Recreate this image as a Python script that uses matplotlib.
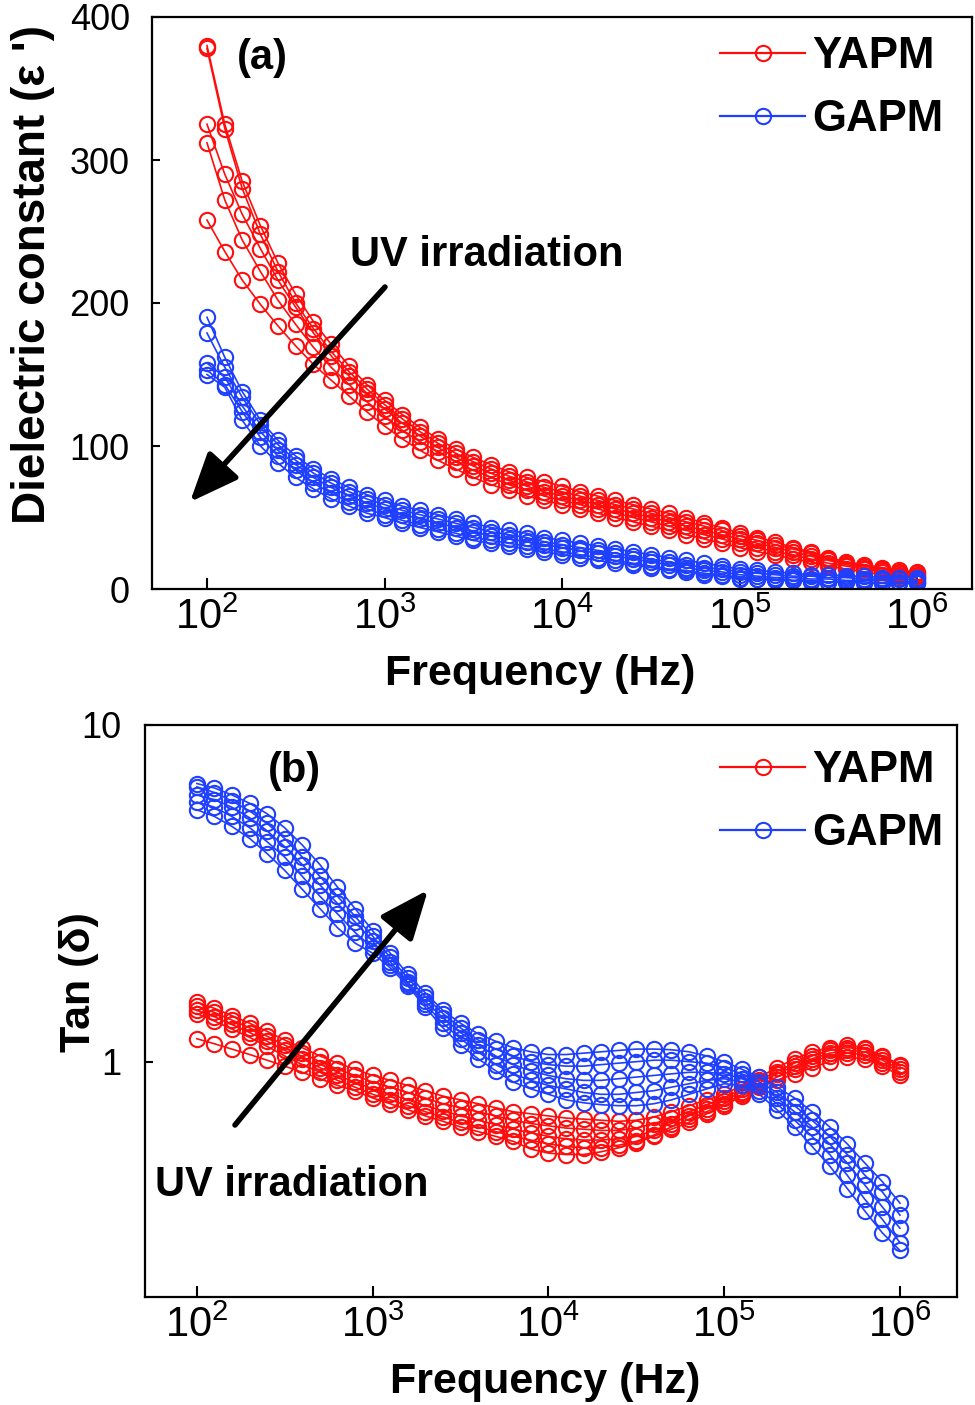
import matplotlib
matplotlib.use('Agg')
import matplotlib.pyplot as plt
from matplotlib.ticker import FixedLocator, NullLocator
from matplotlib.lines import Line2D

plt.rcParams['font.family'] = ['Liberation Sans', 'DejaVu Sans']
plt.rcParams['mathtext.fontset'] = 'custom'
plt.rcParams['mathtext.rm'] = 'Liberation Sans'
plt.rcParams['mathtext.it'] = 'Liberation Sans:italic'
plt.rcParams['mathtext.bf'] = 'Liberation Sans:bold'

# frequency sweep (Hz), 10 points per decade
freq = [100, 126, 158, 200, 251, 316, 398, 501, 631, 794,
        1000, 1259, 1585, 1995, 2512, 3162, 3981, 5012, 6310, 7943,
        10000, 12589, 15849, 19953, 25119, 31623, 39811, 50119, 63096, 79433,
        100000, 125893, 158489, 199526, 251189, 316228, 398107, 501187, 630957, 794328,
        1000000]

# (a) dielectric constant, YAPM
yapm_eps_1 = [380, 325, 285, 254, 228, 206, 187, 171, 156, 143,
              132, 122, 113, 105, 98, 92, 87, 82, 78, 75,
              72, 68, 65, 62, 59, 56, 53, 50, 46, 43,
              39, 36, 33, 29, 26, 22, 19, 17, 15, 13, 12]
yapm_eps_2 = [378, 322, 280, 248, 222, 200, 182, 166, 152, 140,
              129, 119, 110, 102, 95, 89, 84, 79, 75, 71,
              68, 65, 62, 59, 56, 53, 50, 47, 44, 41,
              37, 34, 31, 28, 25, 21, 18, 16, 14, 12, 11]
yapm_eps_3 = [325, 290, 262, 238, 216, 197, 179, 163, 149, 137,
              126, 116, 107, 99, 92, 86, 81, 76, 72, 68,
              65, 62, 59, 56, 53, 50, 47, 44, 41, 38,
              35, 32, 29, 26, 23, 20, 17, 15, 13, 11, 10]
yapm_eps_4 = [312, 272, 244, 222, 202, 185, 169, 155, 143, 131,
              121, 111, 103, 96, 89, 83, 78, 73, 69, 65,
              62, 59, 56, 53, 50, 47, 44, 41, 38, 35,
              32, 29, 26, 24, 21, 18, 16, 14, 12, 10, 9]
yapm_eps_5 = [258, 236, 216, 199, 184, 170, 157, 146, 135, 124,
              114, 105, 97, 90, 84, 78, 73, 69, 65, 62,
              59, 56, 53, 50, 47, 44, 41, 38, 35, 32,
              29, 26, 24, 21, 19, 16, 14, 12, 10, 9, 8]

# (a) dielectric constant, GAPM
gapm_eps_1 = [190, 162, 138, 118, 104, 93, 84, 77, 71, 66,
              62, 58, 55, 52, 49, 46, 43, 41, 39, 36,
              34, 32, 30, 28, 26, 24, 22, 20, 18, 16,
              14, 13, 12, 11, 10, 10, 9, 9, 8, 8, 8]
gapm_eps_2 = [179, 155, 134, 115, 101, 90, 81, 74, 68, 63,
              59, 55, 52, 49, 46, 43, 40, 38, 36, 33,
              31, 29, 27, 25, 23, 21, 19, 17, 15, 14,
              12, 11, 10, 9, 9, 8, 8, 7, 7, 7, 6]
gapm_eps_3 = [158, 148, 128, 110, 97, 87, 78, 71, 65, 60,
              56, 52, 49, 46, 43, 40, 37, 35, 33, 31,
              29, 27, 25, 23, 21, 19, 17, 15, 13, 12,
              10, 9, 8, 8, 7, 7, 6, 6, 6, 5, 5]
gapm_eps_4 = [153, 143, 124, 106, 93, 83, 74, 67, 61, 56,
              52, 48, 45, 42, 39, 36, 34, 32, 30, 28,
              26, 24, 22, 20, 18, 16, 14, 13, 11, 10,
              8, 7, 7, 6, 6, 5, 5, 5, 4, 4, 4]
gapm_eps_5 = [150, 141, 118, 100, 88, 78, 70, 63, 58, 53,
              50, 46, 43, 40, 37, 34, 32, 30, 28, 26,
              24, 22, 20, 18, 17, 15, 13, 12, 10, 9,
              7, 7, 6, 6, 5, 5, 5, 4, 4, 4, 4]

# (b) tan delta, YAPM
yapm_tan_1 = [1.50, 1.44, 1.37, 1.30, 1.23, 1.16, 1.10, 1.04, 0.99, 0.95,
              0.91, 0.88, 0.85, 0.82, 0.79, 0.77, 0.75, 0.73, 0.71, 0.70,
              0.69, 0.68, 0.675, 0.67, 0.665, 0.67, 0.685, 0.71, 0.74, 0.77,
              0.80, 0.85, 0.90, 0.96, 1.02, 1.07, 1.10, 1.12, 1.10, 1.04, 0.98]
yapm_tan_2 = [1.46, 1.40, 1.33, 1.26, 1.19, 1.12, 1.06, 1.00, 0.95, 0.91,
              0.87, 0.84, 0.81, 0.78, 0.75, 0.73, 0.71, 0.69, 0.67, 0.655,
              0.645, 0.635, 0.63, 0.625, 0.625, 0.635, 0.655, 0.68, 0.71, 0.745,
              0.78, 0.83, 0.88, 0.935, 0.99, 1.04, 1.08, 1.10, 1.09, 1.03, 0.97]
yapm_tan_3 = [1.42, 1.36, 1.29, 1.22, 1.15, 1.08, 1.02, 0.96, 0.91, 0.87,
              0.83, 0.80, 0.77, 0.74, 0.715, 0.69, 0.67, 0.65, 0.63, 0.615,
              0.60, 0.59, 0.585, 0.585, 0.59, 0.60, 0.625, 0.655, 0.69, 0.725,
              0.765, 0.815, 0.865, 0.92, 0.97, 1.02, 1.06, 1.08, 1.07, 1.01, 0.95]
yapm_tan_4 = [1.39, 1.32, 1.25, 1.18, 1.11, 1.04, 0.98, 0.93, 0.88, 0.84,
              0.80, 0.77, 0.74, 0.71, 0.685, 0.66, 0.64, 0.62, 0.60, 0.585,
              0.57, 0.56, 0.555, 0.555, 0.565, 0.58, 0.605, 0.64, 0.675, 0.71,
              0.75, 0.80, 0.85, 0.90, 0.95, 1.00, 1.04, 1.06, 1.05, 0.99, 0.93]
yapm_tan_5 = [1.17, 1.13, 1.09, 1.05, 1.01, 0.97, 0.93, 0.89, 0.85, 0.82,
              0.78, 0.75, 0.72, 0.69, 0.665, 0.64, 0.62, 0.60, 0.58, 0.55,
              0.535, 0.53, 0.53, 0.54, 0.555, 0.575, 0.60, 0.63, 0.66, 0.70,
              0.74, 0.79, 0.84, 0.88, 0.92, 0.96, 1.00, 1.03, 1.02, 0.97, 0.91]

# (b) tan delta, GAPM
gapm_tan_1 = [6.7, 6.5, 6.2, 5.85, 5.45, 4.95, 4.4, 3.85, 3.3, 2.85,
              2.45, 2.1, 1.82, 1.6, 1.42, 1.30, 1.21, 1.15, 1.10, 1.07,
              1.05, 1.05, 1.06, 1.07, 1.08, 1.09, 1.09, 1.085, 1.07, 1.04,
              1.0, 0.95, 0.90, 0.84, 0.78, 0.71, 0.64, 0.57, 0.50, 0.44, 0.38]
gapm_tan_2 = [6.55, 6.3, 5.95, 5.55, 5.1, 4.6, 4.05, 3.55, 3.1, 2.7,
              2.36, 2.04, 1.77, 1.56, 1.39, 1.26, 1.16, 1.09, 1.04, 1.0,
              0.98, 0.97, 0.97, 0.98, 0.99, 1.0, 1.01, 1.01, 1.0, 0.99,
              0.96, 0.92, 0.87, 0.81, 0.74, 0.67, 0.60, 0.53, 0.46, 0.41, 0.35]
gapm_tan_3 = [6.2, 6.0, 5.7, 5.3, 4.85, 4.35, 3.85, 3.35, 2.95, 2.6,
              2.28, 1.98, 1.72, 1.51, 1.35, 1.22, 1.12, 1.04, 0.98, 0.94,
              0.91, 0.89, 0.88, 0.88, 0.89, 0.90, 0.91, 0.92, 0.93, 0.93,
              0.92, 0.89, 0.85, 0.78, 0.71, 0.64, 0.57, 0.50, 0.43, 0.37, 0.32]
gapm_tan_4 = [5.9, 5.7, 5.35, 4.95, 4.5, 4.05, 3.55, 3.1, 2.75, 2.42,
              2.18, 1.94, 1.7, 1.48, 1.3, 1.17, 1.07, 0.98, 0.92, 0.88,
              0.85, 0.83, 0.81, 0.8, 0.8, 0.81, 0.82, 0.84, 0.86, 0.88,
              0.89, 0.87, 0.82, 0.75, 0.67, 0.60, 0.53, 0.46, 0.39, 0.34, 0.29]
gapm_tan_5 = [5.6, 5.35, 5.0, 4.6, 4.15, 3.7, 3.25, 2.85, 2.5, 2.25,
              2.1, 1.9, 1.68, 1.45, 1.26, 1.12, 1.02, 0.94, 0.87, 0.83,
              0.80, 0.77, 0.755, 0.745, 0.74, 0.74, 0.75, 0.77, 0.80, 0.83,
              0.86, 0.85, 0.80, 0.72, 0.64, 0.56, 0.49, 0.42, 0.36, 0.31, 0.275]

xticks = [1e2, 1e3, 1e4, 1e5, 1e6]
xtick_labels = [r'$\mathregular{10^{2}}$', r'$\mathregular{10^{3}}$', r'$\mathregular{10^{4}}$',
                r'$\mathregular{10^{5}}$', r'$\mathregular{10^{6}}$']

RED = '#ff0d0d'
BLUE = '#1f3fff'
W, H = 975, 1405

fig = plt.figure(figsize=(W / 100, H / 100), dpi=100)


def px_axes(l, t, r, b):
    return fig.add_axes([l / W, 1 - b / H, (r - l) / W, (b - t) / H])


def ftext(x, y, s, **kw):
    # x, y in image pixels (origin top-left)
    return fig.text(x / W, 1 - y / H, s, **kw)


def draw(ax, series, color):
    for ys in series:
        ax.plot(freq, ys, '-', color=color, lw=1.2, marker='o', ms=11,
                mfc='none', mec=color, mew=1.5)


def style(ax):
    ax.set_xscale('log')
    for sp in ax.spines.values():
        sp.set_linewidth(1.6)
    ax.xaxis.set_major_locator(FixedLocator(xticks))
    ax.set_xticklabels(xtick_labels)
    ax.xaxis.set_minor_locator(NullLocator())
    ax.tick_params(axis='x', direction='in', length=8, width=1.5, pad=6,
                   labelsize=30, top=False)
    ax.tick_params(axis='y', direction='in', length=6, width=1.5,
                   labelsize=26, right=False)


ax1 = px_axes(152, 17, 972, 589)
draw(ax1, [yapm_eps_1, yapm_eps_2, yapm_eps_3, yapm_eps_4, yapm_eps_5], RED)
draw(ax1, [gapm_eps_1, gapm_eps_2, gapm_eps_3, gapm_eps_4, gapm_eps_5], BLUE)
style(ax1)
ax1.set_xlim(49, 2.04e6)
ax1.set_ylim(0, 400)
ax1.set_yticks([0, 100, 200, 300, 400])
ax1.tick_params(axis='y', pad=16)

ax2 = px_axes(145, 725, 957, 1297)
draw(ax2, [yapm_tan_1, yapm_tan_2, yapm_tan_3, yapm_tan_4, yapm_tan_5], RED)
draw(ax2, [gapm_tan_1, gapm_tan_2, gapm_tan_3, gapm_tan_4, gapm_tan_5], BLUE)
style(ax2)
ax2.set_yscale('log')
ax2.set_xlim(50.7, 2.11e6)
ax2.set_ylim(0.2, 10)
ax2.yaxis.set_major_locator(FixedLocator([1, 10]))
ax2.set_yticklabels(['1', '10'])
ax2.yaxis.set_minor_locator(NullLocator())
ax2.tick_params(axis='y', pad=17)

# axis titles
ftext(540, 685, 'Frequency (Hz)', fontsize=31, fontweight='bold', ha='center', va='baseline')
ftext(545, 1393, 'Frequency (Hz)', fontsize=31, fontweight='bold', ha='center', va='baseline')
ftext(45, 275, "Dielectric constant (\u03b5 ')", fontsize=33, fontweight='bold', rotation=90,
      rotation_mode='anchor', ha='center', va='baseline')
ftext(90, 982, 'Tan (\u03b4)', fontsize=31, fontweight='bold', rotation=90,
      rotation_mode='anchor', ha='center', va='baseline')

# panel tags and annotations
ftext(237, 69, '(a)', fontsize=30, fontweight='bold', va='baseline')
ftext(268, 782, '(b)', fontsize=30, fontweight='bold', va='baseline')
ftext(350, 266, 'UV irradiation', fontsize=30, fontweight='bold', va='baseline')
ftext(155, 1196, 'UV irradiation', fontsize=30, fontweight='bold', va='baseline')

arrow = dict(arrowstyle='-|>,head_length=1.2,head_width=0.5', lw=4, color='black',
             mutation_scale=25, shrinkA=0, shrinkB=0)
ax1.annotate('', xy=(190, H - 502), xytext=(385, H - 287), xycoords='figure pixels',
             textcoords='figure pixels', arrowprops=arrow, annotation_clip=False)
ax2.annotate('', xy=(428, H - 890), xytext=(235, H - 1125), xycoords='figure pixels',
             textcoords='figure pixels', arrowprops=arrow, annotation_clip=False)

# legends
handles = [Line2D([], [], color=RED, lw=1.6, marker='o', ms=11, mfc='none', mew=1.5),
           Line2D([], [], color=BLUE, lw=1.6, marker='o', ms=11, mfc='none', mew=1.5)]
leg_kw = dict(frameon=False, handlelength=1.95, handletextpad=0.15, labelspacing=0.5,
              borderpad=0, borderaxespad=0, loc='upper left', numpoints=1,
              prop={'size': 31.5, 'weight': 'bold'})
ax1.legend(handles, ['YAPM', 'GAPM'], bbox_to_anchor=(720 / W, 1 - 36 / H),
           bbox_transform=fig.transFigure, **leg_kw)
ax2.legend(handles, ['YAPM', 'GAPM'], bbox_to_anchor=(720 / W, 1 - 750 / H),
           bbox_transform=fig.transFigure, **leg_kw)

fig.savefig('out.png', dpi=100)
